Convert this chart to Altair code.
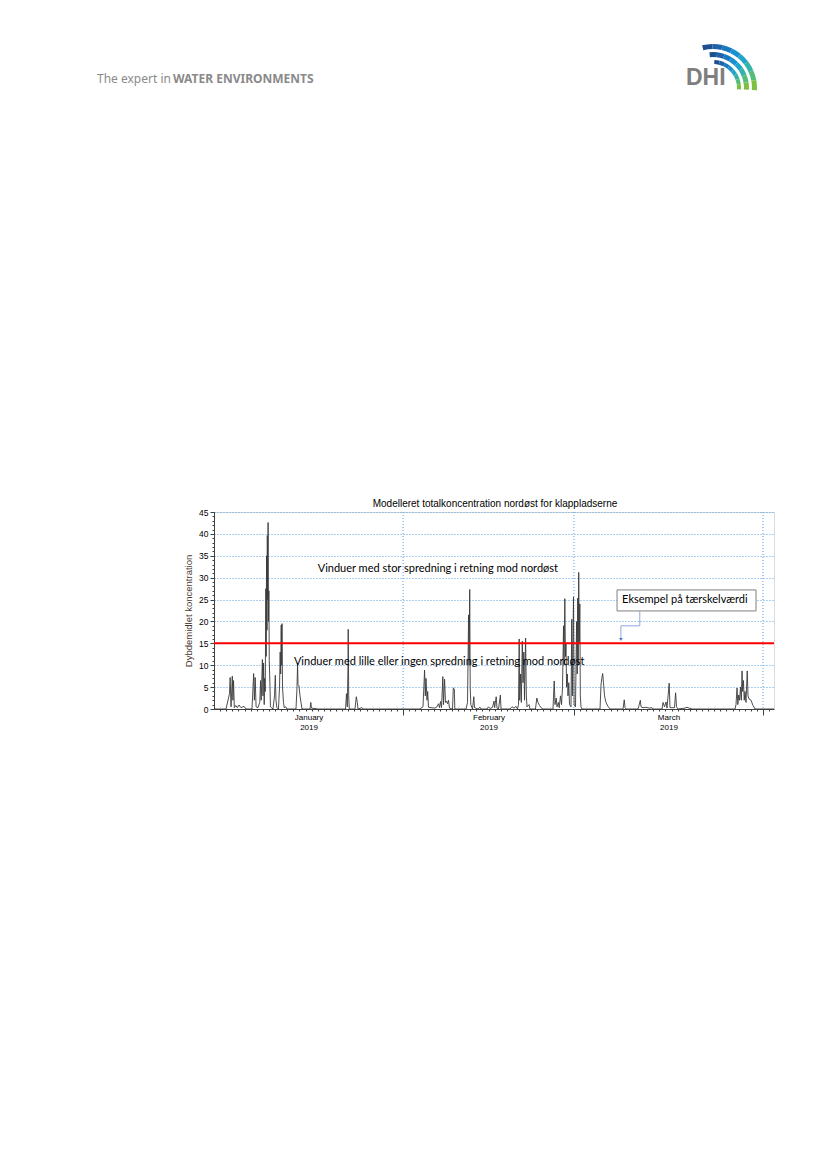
import math
import altair as alt
import pandas as pd

# ---------------- data ----------------
days = [0.0, 1.97, 2.54, 2.65, 2.79, 3.0, 3.1, 3.2, 3.33, 3.57, 3.82, 4.1, 4.43, 4.9, 5.25,
        6.23, 6.5, 6.62, 6.75, 6.9, 7.2, 7.5, 7.64, 7.74, 7.93, 8.03, 8.13, 8.23, 8.3, 8.4,
        8.5, 8.55, 8.62, 8.69, 8.74, 8.79, 8.87, 8.93, 9.0, 9.06, 9.18, 9.25, 9.67, 9.92,
        10.05, 10.16, 10.3, 10.57, 10.74, 10.85, 10.93, 11.02, 11.08, 11.15, 11.23, 11.39,
        11.52, 11.77, 11.97, 13.44, 13.61, 13.7, 13.77, 13.93, 14.1, 14.26, 14.43, 15.74,
        15.87, 15.98, 17.05, 19.67, 21.56, 21.72, 21.85, 21.97, 22.0, 22.08, 22.18, 23.11,
        23.33, 23.49, 23.6, 24.26, 24.43, 33.77, 34.26, 34.52, 34.64, 34.75, 34.92, 35.03,
        35.16, 35.57, 36.23, 36.56, 36.8, 36.97, 37.13, 37.3, 37.51, 37.62, 37.8, 37.95,
        38.11, 38.28, 38.44, 38.6, 39.1, 39.23, 39.39, 39.48, 41.31, 41.56, 41.74, 41.82,
        41.92, 42.0, 42.1, 42.38, 42.59, 42.71, 43.28, 43.61, 43.77, 44.75, 45.0, 45.25,
        45.66, 45.9, 46.0, 46.26, 46.39, 46.64, 46.95, 47.05, 48.52, 48.85, 49.18, 49.51,
        49.75, 49.92, 50.03, 50.11, 50.26, 50.38, 50.54, 50.66, 50.79, 50.9, 51.08, 51.2,
        51.31, 51.64, 51.8, 52.7, 52.92, 53.11, 53.36, 53.61, 53.93, 55.57, 55.77, 55.9,
        56.1, 56.23, 56.46, 56.59, 56.8, 56.97, 57.13, 57.3, 57.38, 57.51, 57.61, 57.7,
        57.8, 57.92, 58.03, 58.16, 58.28, 58.52, 58.65, 58.74, 58.93, 59.03, 59.26, 59.44,
        59.54, 59.62, 59.7, 59.79, 59.87, 59.97, 60.05, 60.16, 60.33, 63.28, 63.44, 63.57,
        63.72, 63.85, 64.02, 64.26, 64.59, 64.92, 67.05, 67.25, 67.38, 67.54, 69.51, 69.67,
        69.89, 70.0, 70.33, 70.82, 71.31, 71.8, 71.97, 73.44, 73.61, 73.85, 74.1, 74.26,
        74.62, 74.75, 75.49, 75.67, 75.82, 76.07, 77.21, 77.54, 77.87, 78.36, 85.41, 85.57,
        85.74, 85.87, 86.02, 86.15, 86.31, 86.44, 86.56, 86.66, 86.79, 86.92, 87.05, 87.21,
        87.41, 87.54, 87.7, 88.03, 88.36, 88.69, 91.8]
values = [0, 0, 3.5, 7.2, 0.5, 7.5, 2, 6.5, 0.3, 0.8, 0.3, 0.9, 0.3, 0.6, 0,
          0, 8.1, 2, 7.2, 0.5, 0.3, 1.5, 6.5, 2, 11.3, 3, 10.5, 1, 7, 4,
          27.5, 12, 35, 18, 39.6, 25, 42.6, 20, 27, 11, 5, 0.5, 0, 3,
          7.7, 2, 0.3, 0, 5, 13, 8, 19.2, 10, 19.5, 5, 1.5,
          0.3, 0.5, 0, 0, 5, 10.5, 5.6, 5.3, 3, 1.5, 0, 0,
          1.5, 0.2, 0, 0, 0, 3.5, 0.5, 10, 18.2, 3, 0, 0,
          2.8, 1.5, 0, 0.3, 0, 0, 0.5, 8.9, 3, 7, 2, 4,
          0.4, 0.3, 0.2, 0.5, 1.2, 0.3, 1.7, 0.3, 7.4, 1, 6.8, 1.5,
          1.8, 1.2, 2, 0.2, 0, 4.8, 4.6, 0, 0, 1.5, 21.5, 10,
          27.3, 5, 1, 0, 2.8, 0.3, 0, 0.4, 0, 0, 0.5, 0.1,
          0.4, 1.8, 0.3, 2.8, 0.2, 0, 3.2, 0, 0, 0.5, 0.2, 0.6,
          0, 1, 16, 2, 8, 1.5, 15.5, 6, 13, 2, 16.2, 3,
          0.5, 1, 0, 0, 2.5, 1.5, 0.8, 0.3, 0, 0, 6.4, 1,
          2.5, 0.5, 1.5, 0.3, 3, 1, 5, 19, 10, 25.2, 12, 15,
          5, 8, 3, 6, 1, 0.5, 20.5, 3, 25.6, 1, 0.5, 20,
          8, 25.3, 10, 31.2, 15, 24, 3, 0.5, 0, 0, 5.5, 7,
          8.1, 6, 3, 1.5, 0.6, 0, 0, 2.1, 0.3, 0, 0, 0.8,
          2.0, 0.5, 0.3, 0.4, 0.2, 0.3, 0, 0, 1.5, 0.5, 1.6, 0.2,
          5.9, 0.3, 0.3, 3.7, 0.5, 0, 0.2, 0.4, 0.2, 0, 0, 1,
          4.8, 1, 3.2, 2, 5, 2, 8.7, 4, 6.5, 2, 4, 1.5,
          8.7, 3, 2.3, 2, 0.8, 0, 0]

month_bounds = [31, 59, 90]
month_mids = [15.5, 45, 74.5]
month_names = ["January", "February", "March"]
year = "2019"
y_ticks = list(range(0, 46, 5))
threshold = 15

title = "Modelleret totalkoncentration nordøst for klappladserne"
y_title = "Dybdemidlet koncentration"
note_high = "Vinduer med stor spredning i retning mod nordøst"
note_low = "Vinduer med lille eller ingen spredning i retning mod nordøst"
callout = "Eksempel på tærskelværdi"

# ---------------- frames ----------------
df = pd.DataFrame({"day": days, "value": values})
bounds_df = pd.DataFrame({"day": month_bounds})
minor_df = pd.DataFrame({"day": list(range(1, 92))})
yminor_df = pd.DataFrame({"v": list(range(0, 46))})

W, H = 560, 197
XD = [0, 91.8]
xs = alt.Scale(domain=XD, nice=False, zero=False)
ys = alt.Scale(domain=[0, 45], nice=False)
GRID = "#5a9fe0"
FONT = "Liberation Sans"
CAL = "Lato"


def X(field):
    return alt.X(field, scale=xs, axis=None)


def Y(field):
    return alt.Y(field, scale=ys, axis=None)


label_expr = ("[datum.value < 31 ? '%s' : datum.value < 59 ? '%s' : '%s', '%s']"
              % (month_names[0], month_names[1], month_names[2], year))

line = alt.Chart(df).mark_line(color="#3a3a3a", strokeWidth=0.9, interpolate="linear").encode(
    x=alt.X("day:Q", scale=xs,
            axis=alt.Axis(values=month_mids, labelExpr=label_expr, ticks=False, grid=False,
                          domain=False, labelFont=FONT, labelFontSize=8, labelColor="black",
                          labelLineHeight=10, labelPadding=4, title=None, orient="bottom")),
    y=alt.Y("value:Q", scale=ys,
            axis=alt.Axis(values=y_ticks, grid=True, gridColor=GRID, gridDash=[1, 2],
                          gridWidth=1, tickSize=4, tickColor="#404040", domain=True,
                          domainColor="#404040", labelFont=FONT, labelFontSize=8.5,
                          labelColor="black", labelPadding=2, title=y_title,
                          titleFont=FONT, titleFontSize=9.5, titleFontWeight="normal",
                          titleColor="#4a3a30", titlePadding=5, orient="left")),
)

yminor = alt.Chart(yminor_df).mark_point(opacity=0).encode(
    y=alt.Y("v:Q", scale=ys,
            axis=alt.Axis(values=list(range(0, 46)), labels=False, tickSize=2, grid=False,
                          domain=False, tickColor="#404040", title=None, orient="left"))
)

vgrid = alt.Chart(bounds_df).mark_rule(color=GRID, strokeDash=[1, 2], strokeWidth=1).encode(
    x=alt.X("day:Q", scale=xs,
            axis=alt.Axis(values=month_bounds, labels=False, tickSize=6, grid=False,
                          domain=True, domainColor="#404040", tickColor="#404040",
                          title=None, orient="bottom"))
)

xminor = alt.Chart(minor_df).mark_point(opacity=0).encode(
    x=alt.X("day:Q", scale=xs,
            axis=alt.Axis(values=list(range(1, 92)), labels=False, tickSize=2, grid=False,
                          domain=False, tickColor="#404040", title=None, orient="bottom"))
)

red = alt.Chart(pd.DataFrame({"v": [threshold]})).mark_rule(color="#ff0000", strokeWidth=2).encode(
    y=Y("v:Q")
)

notes_df = pd.DataFrame({"day": [17.0, 13.1], "value": [32.0, 10.7], "txt": [note_high, note_low]})
notes = alt.Chart(notes_df).mark_text(align="left", baseline="middle", font=CAL, fontSize=11,
                                      color="black").encode(
    x=X("day:Q"), y=Y("value:Q"), text="txt:N")

box_df = pd.DataFrame({"x0": [66.07], "x1": [88.85], "y0": [22.4], "y1": [27.2]})
box = alt.Chart(box_df).mark_rect(fill="white", stroke="#7f7f7f", strokeWidth=1).encode(
    x=X("x0:Q"), x2="x1:Q", y=Y("y0:Q"), y2="y1:Q")

callout_df = pd.DataFrame({"day": [66.9], "value": [24.85], "txt": [callout]})
callout_txt = alt.Chart(callout_df).mark_text(align="left", baseline="middle", font=CAL,
                                               fontSize=11, color="black").encode(
    x=X("day:Q"), y=Y("value:Q"), text="txt:N")

conn_df = pd.DataFrame({"day": [69.8, 69.8, 66.7, 66.7], "value": [22.4, 19.0, 19.0, 16.1],
                        "o": [0, 1, 2, 3]})
conn = alt.Chart(conn_df).mark_line(color="#8eaadb", strokeWidth=1).encode(
    x=X("day:Q"), y=Y("value:Q"), order="o:Q")
arrow = alt.Chart(pd.DataFrame({"day": [66.7], "value": [15.9]})).mark_point(
    shape="triangle-down", size=12, filled=True, color="#4472c4", opacity=1).encode(
    x=X("day:Q"), y=Y("value:Q"))

title_mark = alt.Chart(pd.DataFrame({"t": [title]})).mark_text(
    align="center", baseline="middle", font=FONT, fontSize=10, color="black"
).encode(x=alt.value(W / 2 + 1), y=alt.value(-8), text="t:N")

# ---------------- page header ----------------
hdr1 = alt.Chart(pd.DataFrame({"t": ["The expert in"]})).mark_text(
    align="left", baseline="middle", font="Noto Sans", fontSize=12, color="#8a8a8a"
).encode(x=alt.value(97 - 214), y=alt.value(79 - 512), text="t:N")
hdr2 = alt.Chart(pd.DataFrame({"t": ["WATER ENVIRONMENTS"]})).mark_text(
    align="left", baseline="middle", font="Noto Sans", fontSize=12, fontWeight="bold",
    color="#8a8a8a").encode(x=alt.value(173 - 214), y=alt.value(79 - 512), text="t:N")
dhi = alt.Chart(pd.DataFrame({"t": ["DHI"]})).mark_text(
    align="left", baseline="alphabetic", font="Liberation Sans", fontSize=23, fontWeight="bold",
    color="#7f7f7f").encode(x=alt.value(686 - 214), y=alt.value(85 - 512), text="t:N")

logo_colors = ["#1d4f91", "#1f62a8", "#1a78be", "#1990cf", "#22a3c9", "#34b3a8", "#55bd7a", "#7ac143"]
rings = [(44, 39), (36, 31), (28, 24)]
logo_rows = []
for ri, (ro, rin) in enumerate(rings):
    n = len(logo_colors)
    start, end = -0.25 + 0.15 * ri, 1.62
    for i, c in enumerate(logo_colors):
        t0 = start + (end - start) * i / n
        t1 = start + (end - start) * (i + 1) / n
        logo_rows.append({"t0": t0, "t1": t1, "c": c, "ro": ro, "ri": rin})
logo_df = pd.DataFrame(logo_rows)
logo = alt.Chart(logo_df).mark_arc().encode(
    theta=alt.Theta("t0:Q", scale=None), theta2="t1:Q",
    radius=alt.Radius("ro:Q", scale=None), radius2="ri:Q",
    color=alt.Color("c:N", scale=None),
    x=alt.value(713 - 214), y=alt.value(88 - 512))

chart = alt.layer(
    vgrid, xminor, yminor, line, red, notes, box, callout_txt, conn, arrow,
    title_mark, hdr1, hdr2, dhi, logo
).resolve_axis(x="independent", y="independent").properties(
    width=W, height=H,
    autosize=alt.AutoSizeParams(type="none"),
    padding={"left": 206, "top": 504, "right": 40, "bottom": 60},
).configure_view(stroke="#808080", strokeWidth=1).configure(background="white")

chart.save("out.html", embed_options={"renderer": "svg", "actions": False})
